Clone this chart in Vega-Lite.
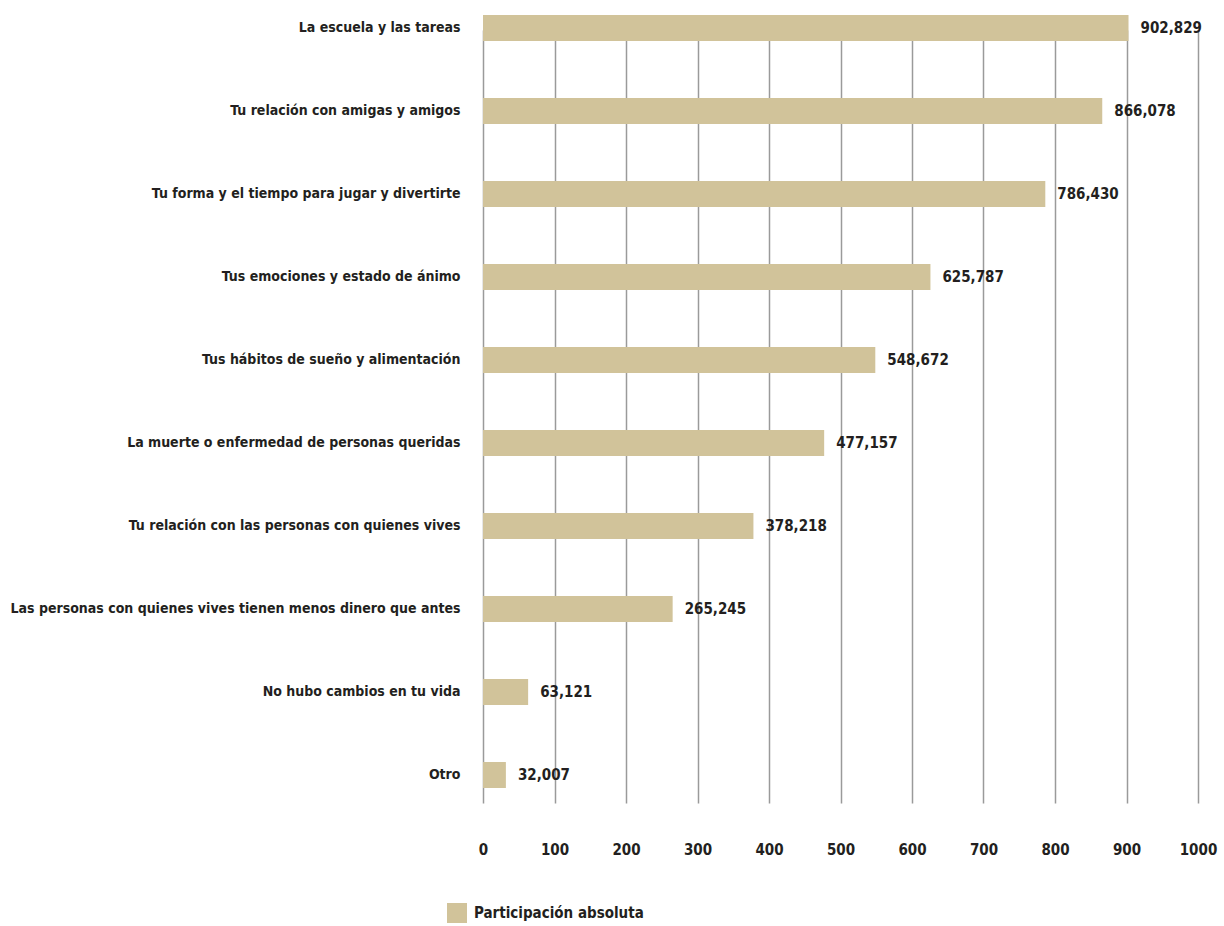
{
  "$schema": "https://vega.github.io/schema/vega-lite/v6.json",
  "autosize": "none",
  "width": 715,
  "height": 802,
  "padding": {"left": 483, "top": 8, "right": 26, "bottom": 116},
  "background": "white",
  "config": {
    "view": {"stroke": null},
    "font": "DejaVu Sans Condensed",
    "axis": {"labelFont": "DejaVu Sans Condensed", "labelFontWeight": "bold", "labelColor": "#231f20"},
    "legend": {"labelFont": "DejaVu Sans Condensed"}
  },
  "data": {
    "values": [
      {"categoria": "La escuela y las tareas", "valor": 902829},
      {"categoria": "Tu relación con amigas y amigos", "valor": 866078},
      {"categoria": "Tu forma y el tiempo para jugar y divertirte", "valor": 786430},
      {"categoria": "Tus emociones y estado de ánimo", "valor": 625787},
      {"categoria": "Tus hábitos de sueño y alimentación", "valor": 548672},
      {"categoria": "La muerte o enfermedad de personas queridas", "valor": 477157},
      {"categoria": "Tu relación con las personas con quienes vives", "valor": 378218},
      {"categoria": "Las personas con quienes vives tienen menos dinero que antes", "valor": 265245},
      {"categoria": "No hubo cambios en tu vida", "valor": 63121},
      {"categoria": "Otro", "valor": 32007}
    ]
  },
  "encoding": {
    "y": {
      "field": "categoria",
      "type": "nominal",
      "sort": null,
      "scale": {"range": [7, 780], "paddingInner": 0.687, "paddingOuter": 0},
      "axis": {
        "title": null,
        "domain": false,
        "ticks": false,
        "labelPadding": 23,
        "labelFontSize": 14,
        "labelLimit": 480
      }
    },
    "x": {
      "field": "valor",
      "type": "quantitative",
      "scale": {"domain": [0, 1000000], "nice": false},
      "axis": {
        "title": null,
        "values": [0, 100000, 200000, 300000, 400000, 500000, 600000, 700000, 800000, 900000, 1000000],
        "labelExpr": "format(datum.value / 1000, 'd')",
        "labelFlush": false,
        "labelOverlap": false,
        "domain": false,
        "ticks": false,
        "tickSize": 0,
        "labelPadding": 32,
        "labelFontSize": 15,
        "grid": true,
        "gridColor": "#9a9a9a",
        "gridWidth": 1.5
      }
    }
  },
  "layer": [
    {
      "mark": {"type": "bar"},
      "encoding": {
        "color": {
          "datum": "Participación absoluta",
          "type": "nominal",
          "scale": {"range": ["#d1c39a"]},
          "legend": {
            "title": null,
            "orient": "none",
            "legendX": -36,
            "legendY": 895,
            "symbolType": "square",
            "symbolSize": 400,
            "symbolStrokeWidth": 0,
            "labelFontSize": 15,
            "labelFontWeight": "bold",
            "labelColor": "#231f20",
            "labelOffset": 7,
            "labelLimit": 400
          }
        }
      }
    },
    {
      "mark": {"type": "text", "align": "left", "baseline": "middle", "dx": 12, "fontSize": 15, "fontWeight": "bold", "color": "#231f20"},
      "encoding": {
        "text": {"field": "valor", "type": "quantitative", "format": ",d"}
      }
    }
  ]
}
